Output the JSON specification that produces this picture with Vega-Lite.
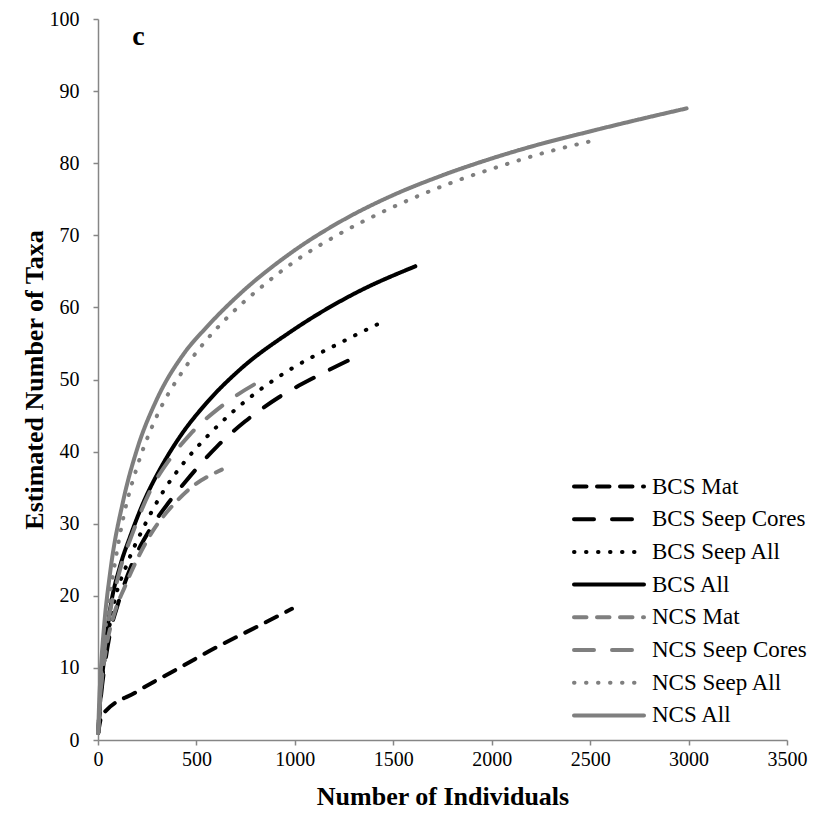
{
  "$schema": "https://vega.github.io/schema/vega-lite/v6.json",
  "autosize": {"type": "none"},
  "padding": {"left": 98, "top": 19, "right": 27, "bottom": 77},
  "width": 689,
  "height": 721,
  "background": "white",
  "config": {"view": {"stroke": null}, "font": "Liberation Serif"},
  "datasets": {
    "curves": [
      {"series": "BCS Mat", "n": 1, "taxa": 1}, {"series": "BCS Mat", "n": 20, "taxa": 3.4}, {"series": "BCS Mat", "n": 197, "taxa": 6.7}, {"series": "BCS Mat", "n": 400, "taxa": 9.8}, {"series": "BCS Mat", "n": 604, "taxa": 12.9}, {"series": "BCS Mat", "n": 807, "taxa": 15.7}, {"series": "BCS Mat", "n": 985, "taxa": 18.2},
      {"series": "BCS Seep Cores", "n": 1, "taxa": 1}, {"series": "BCS Seep Cores", "n": 15, "taxa": 6}, {"series": "BCS Seep Cores", "n": 35, "taxa": 10.5}, {"series": "BCS Seep Cores", "n": 61, "taxa": 14.8}, {"series": "BCS Seep Cores", "n": 103, "taxa": 19}, {"series": "BCS Seep Cores", "n": 171, "taxa": 24.3}, {"series": "BCS Seep Cores", "n": 273, "taxa": 29.6}, {"series": "BCS Seep Cores", "n": 358, "taxa": 32.9}, {"series": "BCS Seep Cores", "n": 468, "taxa": 36.6}, {"series": "BCS Seep Cores", "n": 604, "taxa": 40.7}, {"series": "BCS Seep Cores", "n": 748, "taxa": 44.2}, {"series": "BCS Seep Cores", "n": 917, "taxa": 47.5}, {"series": "BCS Seep Cores", "n": 1129, "taxa": 50.7}, {"series": "BCS Seep Cores", "n": 1299, "taxa": 53},
      {"series": "BCS Seep All", "n": 1, "taxa": 1}, {"series": "BCS Seep All", "n": 15, "taxa": 6.5}, {"series": "BCS Seep All", "n": 40, "taxa": 12.5}, {"series": "BCS Seep All", "n": 86, "taxa": 19.5}, {"series": "BCS Seep All", "n": 146, "taxa": 24.3}, {"series": "BCS Seep All", "n": 230, "taxa": 29.4}, {"series": "BCS Seep All", "n": 332, "taxa": 34.5}, {"series": "BCS Seep All", "n": 434, "taxa": 38.4}, {"series": "BCS Seep All", "n": 544, "taxa": 41.8}, {"series": "BCS Seep All", "n": 688, "taxa": 45.6}, {"series": "BCS Seep All", "n": 824, "taxa": 48.6}, {"series": "BCS Seep All", "n": 977, "taxa": 51.4}, {"series": "BCS Seep All", "n": 1231, "taxa": 55.1}, {"series": "BCS Seep All", "n": 1460, "taxa": 58.2},
      {"series": "BCS All", "n": 1, "taxa": 1}, {"series": "BCS All", "n": 15, "taxa": 7}, {"series": "BCS All", "n": 30, "taxa": 11}, {"series": "BCS All", "n": 61, "taxa": 18}, {"series": "BCS All", "n": 112, "taxa": 24.1}, {"series": "BCS All", "n": 163, "taxa": 28.2}, {"series": "BCS All", "n": 230, "taxa": 32.9}, {"series": "BCS All", "n": 324, "taxa": 38}, {"series": "BCS All", "n": 417, "taxa": 42.1}, {"series": "BCS All", "n": 553, "taxa": 46.8}, {"series": "BCS All", "n": 722, "taxa": 51.4}, {"series": "BCS All", "n": 977, "taxa": 56.6}, {"series": "BCS All", "n": 1316, "taxa": 62.1}, {"series": "BCS All", "n": 1612, "taxa": 65.7},
      {"series": "NCS Mat", "n": 1, "taxa": 1}, {"series": "NCS Mat", "n": 15, "taxa": 7}, {"series": "NCS Mat", "n": 40, "taxa": 12.5}, {"series": "NCS Mat", "n": 78, "taxa": 17.1}, {"series": "NCS Mat", "n": 137, "taxa": 21.3}, {"series": "NCS Mat", "n": 205, "taxa": 25.4}, {"series": "NCS Mat", "n": 281, "taxa": 29.1}, {"series": "NCS Mat", "n": 375, "taxa": 32.4}, {"series": "NCS Mat", "n": 468, "taxa": 34.9}, {"series": "NCS Mat", "n": 629, "taxa": 37.5},
      {"series": "NCS Seep Cores", "n": 1, "taxa": 1}, {"series": "NCS Seep Cores", "n": 15, "taxa": 7.5}, {"series": "NCS Seep Cores", "n": 40, "taxa": 14}, {"series": "NCS Seep Cores", "n": 103, "taxa": 22.7}, {"series": "NCS Seep Cores", "n": 180, "taxa": 29}, {"series": "NCS Seep Cores", "n": 264, "taxa": 34.5}, {"series": "NCS Seep Cores", "n": 366, "taxa": 39}, {"series": "NCS Seep Cores", "n": 468, "taxa": 42.4}, {"series": "NCS Seep Cores", "n": 637, "taxa": 46.5}, {"series": "NCS Seep Cores", "n": 858, "taxa": 50.3},
      {"series": "NCS Seep All", "n": 1, "taxa": 1}, {"series": "NCS Seep All", "n": 15, "taxa": 8.5}, {"series": "NCS Seep All", "n": 40, "taxa": 16}, {"series": "NCS Seep All", "n": 80, "taxa": 23.5}, {"series": "NCS Seep All", "n": 130, "taxa": 31}, {"series": "NCS Seep All", "n": 200, "taxa": 38}, {"series": "NCS Seep All", "n": 300, "taxa": 45}, {"series": "NCS Seep All", "n": 434, "taxa": 51.3}, {"series": "NCS Seep All", "n": 536, "taxa": 55}, {"series": "NCS Seep All", "n": 646, "taxa": 58.3}, {"series": "NCS Seep All", "n": 824, "taxa": 62.7}, {"series": "NCS Seep All", "n": 1011, "taxa": 66.6}, {"series": "NCS Seep All", "n": 1214, "taxa": 70}, {"series": "NCS Seep All", "n": 1434, "taxa": 73.1}, {"series": "NCS Seep All", "n": 1596, "taxa": 75.1}, {"series": "NCS Seep All", "n": 1816, "taxa": 77.5}, {"series": "NCS Seep All", "n": 2045, "taxa": 79.6}, {"series": "NCS Seep All", "n": 2274, "taxa": 81.5}, {"series": "NCS Seep All", "n": 2511, "taxa": 83.1},
      {"series": "NCS All", "n": 1, "taxa": 1}, {"series": "NCS All", "n": 5, "taxa": 4.5}, {"series": "NCS All", "n": 15, "taxa": 10}, {"series": "NCS All", "n": 30, "taxa": 15.5}, {"series": "NCS All", "n": 63, "taxa": 23.5}, {"series": "NCS All", "n": 129, "taxa": 33.3}, {"series": "NCS All", "n": 197, "taxa": 40.2}, {"series": "NCS All", "n": 298, "taxa": 47.2}, {"series": "NCS All", "n": 434, "taxa": 53.5}, {"series": "NCS All", "n": 553, "taxa": 57.3}, {"series": "NCS All", "n": 722, "taxa": 61.9}, {"series": "NCS All", "n": 977, "taxa": 67.5}, {"series": "NCS All", "n": 1231, "taxa": 71.9}, {"series": "NCS All", "n": 1485, "taxa": 75.4}, {"series": "NCS All", "n": 1738, "taxa": 78.2}, {"series": "NCS All", "n": 1960, "taxa": 80.3}, {"series": "NCS All", "n": 2214, "taxa": 82.4}, {"series": "NCS All", "n": 2469, "taxa": 84.2}, {"series": "NCS All", "n": 2723, "taxa": 85.9}, {"series": "NCS All", "n": 2990, "taxa": 87.6}
    ],
    "panel": [{"n": 206, "taxa": 96.4, "label": "c"}]
  },
  "layer": [
    {
      "data": {"name": "curves"},
      "mark": {"type": "line", "interpolate": "monotone", "strokeWidth": 4, "strokeCap": "round", "strokeJoin": "round"},
      "encoding": {
        "x": {
          "field": "n", "type": "quantitative",
          "scale": {"domain": [0, 3500], "nice": false},
          "axis": {
            "title": "Number of Individuals", "values": [0, 500, 1000, 1500, 2000, 2500, 3000, 3500], "format": "d",
            "grid": false, "domainColor": "#868686", "domainWidth": 1.5, "tickColor": "#868686", "tickWidth": 1.5, "tickSize": 5,
            "labelFont": "Liberation Serif", "labelFontSize": 20, "labelColor": "#000000", "labelPadding": 4, "labelFlush": false,
            "titleFont": "Liberation Serif", "titleFontSize": 26, "titleFontWeight": "bold", "titleColor": "#000000", "titlePadding": 14
          }
        },
        "y": {
          "field": "taxa", "type": "quantitative",
          "scale": {"domain": [0, 100], "nice": false},
          "axis": {
            "title": "Estimated Number of Taxa", "values": [0, 10, 20, 30, 40, 50, 60, 70, 80, 90, 100], "format": "d",
            "grid": false, "domainColor": "#868686", "domainWidth": 1.5, "tickColor": "#868686", "tickWidth": 1.5, "tickSize": 5,
            "labelFont": "Liberation Serif", "labelFontSize": 20, "labelColor": "#000000", "labelPadding": 14, "labelFlush": false,
            "titleFont": "Liberation Serif", "titleFontSize": 26, "titleFontWeight": "bold", "titleColor": "#000000", "titlePadding": 2
          }
        },
        "color": {
          "field": "series", "type": "nominal",
          "scale": {
            "domain": ["BCS Mat", "BCS Seep Cores", "BCS Seep All", "BCS All", "NCS Mat", "NCS Seep Cores", "NCS Seep All", "NCS All"],
            "range": ["#000000", "#000000", "#000000", "#000000", "#7f7f7f", "#7f7f7f", "#7f7f7f", "#7f7f7f"]
          },
          "legend": {
            "title": null, "orient": "none", "legendX": 499.5, "legendY": 456,
            "symbolType": "M-7,0H7", "symbolSize": 100, "symbolStrokeWidth": 4,
            "labelFont": "Liberation Serif", "labelFontSize": 23, "labelColor": "#000000", "labelOffset": 31.5,
            "rowPadding": 8.7, "padding": 0, "labelLimit": 300,
            "encode": {"symbols": {"update": {"strokeCap": {"value": "round"}}}}
          }
        },
        "strokeDash": {
          "field": "series", "type": "nominal",
          "scale": {
            "domain": ["BCS Mat", "BCS Seep Cores", "BCS Seep All", "BCS All", "NCS Mat", "NCS Seep Cores", "NCS Seep All", "NCS All"],
            "range": [[12.5, 10.5], [20, 18], [0.5, 11.5], [1, 0], [12.5, 10.5], [20, 18], [0.5, 11.5], [1, 0]]
          }
        }
      }
    },
    {
      "data": {"name": "panel"},
      "mark": {"type": "text", "font": "Liberation Serif", "fontSize": 28, "fontWeight": "bold", "color": "#000000", "align": "center", "baseline": "alphabetic"},
      "encoding": {
        "x": {"field": "n", "type": "quantitative"},
        "y": {"field": "taxa", "type": "quantitative"},
        "text": {"field": "label"}
      }
    }
  ]
}
